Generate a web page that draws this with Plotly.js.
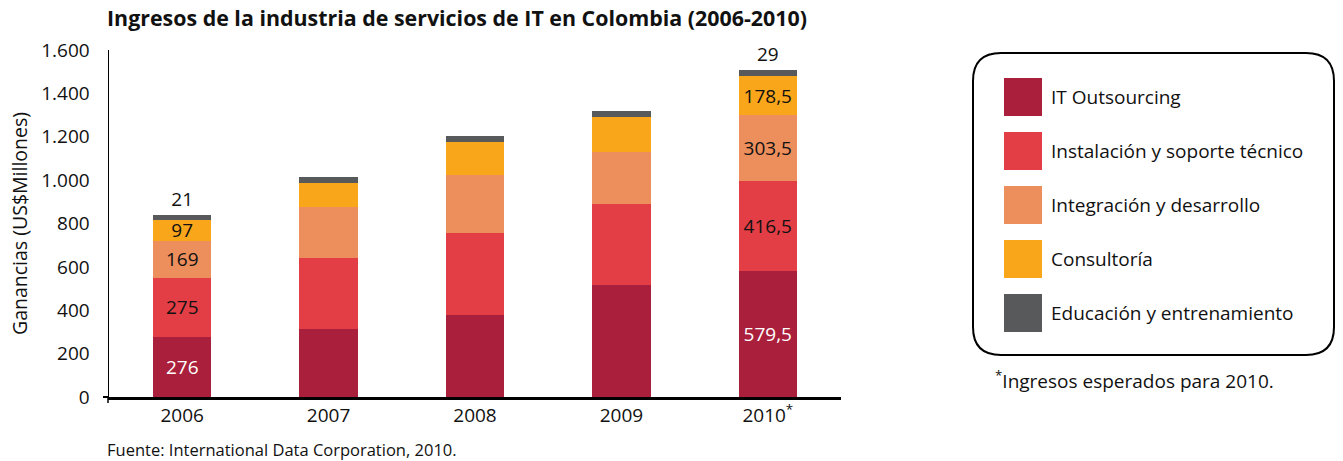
<!DOCTYPE html>
<html>
<head>
<meta charset="utf-8">
<script src="https://cdn.plot.ly/plotly-3.0.1.min.js"></script>
<style>html,body{margin:0;padding:0;background:#fff;}#chart{width:1343px;height:461px;}</style>
</head>
<body>
<div id="chart"></div>
<script>
// ---- data ----
const years = ['2006', '2007', '2008', '2009', '2010<sup>*</sup>'];
const labeledYears = ['2006', '2010<sup>*</sup>'];
const seriesNames = ['IT Outsourcing', 'Instalación y soporte técnico', 'Integración y desarrollo', 'Consultoría', 'Educación y entrenamiento'];
const itOutsourcing = [276, 313, 377, 515, 579.5];
const instalacion   = [275, 326, 377, 377, 416.5];
const integracion   = [169, 239, 271, 239, 303.5];
const consultoria   = [97, 110, 152, 161, 178.5];
const educacion     = [21, 28, 28, 28, 29];
const seriesColors = ['#a91f3c', '#e33e46', '#ec8f5d', '#f9a61b', '#58595b'];
const textColors = ['#ffffff', '#111111', '#111111', '#111111', '#111111'];

const allValues = [itOutsourcing, instalacion, integracion, consultoria, educacion];
const fmt = v => String(v).replace('.', ',');

const FONT = "'Liberation Sans Narrow', 'Open Sans', sans-serif";
const FONT2 = "'Open Sans', 'Noto Sans', sans-serif";

const traces = allValues.map((vals, i) => ({
  type: 'bar',
  name: seriesNames[i],
  x: years,
  y: vals,
  marker: {color: seriesColors[i], line: {width: 0}},
  width: 0.4,
  text: vals.map((v, j) => labeledYears.includes(years[j]) ? fmt(v) : ''),
  textposition: i === allValues.length - 1 ? 'outside' : 'inside',
  insidetextanchor: 'middle',
  textangle: 0,
  constraintext: 'none',
  cliponaxis: false,
  textfont: {family: FONT2, size: 19, color: textColors[i]},
  outsidetextfont: {family: FONT2, size: 19, color: '#111111'},
  hoverinfo: 'x+y+name',
  showlegend: false
}));

// plot area in pixels
const L = 109, R = 841, T = 50, B = 397;
const W = 1343, H = 461;
const px = x => (x - L) / (R - L);
const py = y => (B - y) / (B - T);

function roundRectPath(x0, y0, x1, y1, r) {
  const P = (x, y) => px(x).toFixed(5) + ',' + py(y).toFixed(5);
  return 'M' + P(x0 + r, y0) + ' L' + P(x1 - r, y0) + ' Q' + P(x1, y0) + ' ' + P(x1, y0 + r) +
    ' L' + P(x1, y1 - r) + ' Q' + P(x1, y1) + ' ' + P(x1 - r, y1) +
    ' L' + P(x0 + r, y1) + ' Q' + P(x0, y1) + ' ' + P(x0, y1 - r) +
    ' L' + P(x0, y0 + r) + ' Q' + P(x0, y0) + ' ' + P(x0 + r, y0) + ' Z';
}

const shapes = [
  {type: 'path', xref: 'paper', yref: 'paper', path: roundRectPath(973, 53, 1334, 355, 28),
   line: {color: '#000', width: 2}, fillcolor: 'rgba(0,0,0,0)'},
  // small cross at origin
  {type: 'line', xref: 'paper', yref: 'paper', x0: px(103), x1: px(109), y0: 0, y1: 0, line: {color: '#000', width: 2}},
  {type: 'line', xref: 'paper', yref: 'paper', x0: px(108), x1: px(108), y0: py(397), y1: py(403), line: {color: '#000', width: 1.5}}
];
const annotations = [];
seriesNames.forEach((n, i) => {
  const cy = 97 + i * 54;
  shapes.push({type: 'rect', xref: 'paper', yref: 'paper', x0: px(1004), x1: px(1042), y0: py(cy - 19), y1: py(cy + 19),
    fillcolor: seriesColors[i], line: {width: 0}});
  annotations.push({xref: 'paper', yref: 'paper', x: px(1049), y: py(cy), xanchor: 'left', yanchor: 'middle',
    text: n, showarrow: false, font: {family: FONT2, size: 19, color: '#111'}});
});
annotations.push({xref: 'paper', yref: 'paper', x: px(993), y: py(380), xanchor: 'left', yanchor: 'middle',
  text: '<sup>*</sup>Ingresos esperados para 2010.', showarrow: false, font: {family: FONT2, size: 19, color: '#111'}});
annotations.push({xref: 'paper', yref: 'paper', x: px(105), y: py(449), xanchor: 'left', yanchor: 'middle',
  text: 'Fuente: International Data Corporation, 2010.', showarrow: false, font: {family: FONT2, size: 16.5, color: '#111'}});

const layout = {
  width: W, height: H,
  margin: {l: L, r: W - R, t: T, b: H - B},
  paper_bgcolor: '#fff', plot_bgcolor: '#fff',
  separators: ',.',
  barmode: 'stack',
  bargap: 0.6,
  title: {text: '<b>Ingresos de la industria de servicios de IT en Colombia (2006-2010)</b>',
    font: {family: FONT, size: 21.4, color: '#111'},
    xref: 'container', yref: 'container', x: 107 / W, xanchor: 'left', y: 1 - 19 / H, yanchor: 'middle'},
  xaxis: {
    type: 'category', range: [-0.5, 4.5], fixedrange: true,
    showline: true, linecolor: '#000', linewidth: 2.5, ticks: '', showgrid: false, zeroline: false,
    tickfont: {family: FONT2, size: 19, color: '#111'}
  },
  yaxis: {
    range: [0, 1600], dtick: 200, tickformat: ',', fixedrange: true,
    showline: true, linecolor: '#000', linewidth: 1.5, ticks: '', showgrid: false, zeroline: false,
    ticklabelstandoff: 14,
    tickfont: {family: FONT2, size: 19, color: '#111'},
    title: {text: 'Ganancias (US$Millones)', font: {family: FONT2, size: 19.5, color: '#111'}, standoff: 8}
  },
  shapes: shapes,
  annotations: annotations,
  showlegend: false
};

Plotly.newPlot('chart', traces, layout, {displayModeBar: false, staticPlot: true});
</script>
</body>
</html>
